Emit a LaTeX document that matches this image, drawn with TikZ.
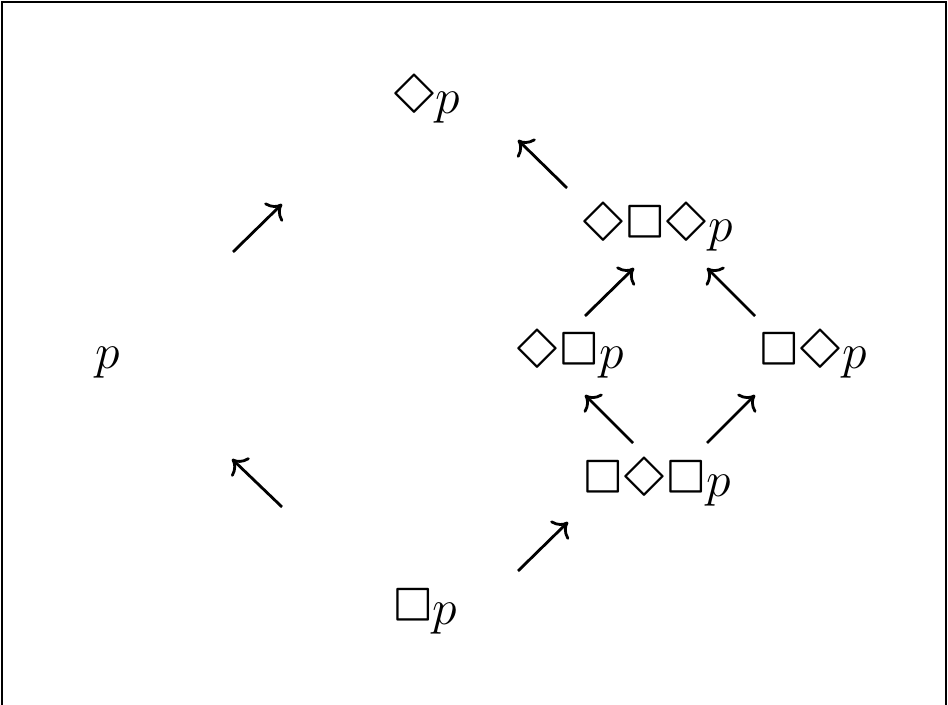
\documentclass[tikz,border=0pt]{standalone}
\usepackage{latexsym}
\DeclareFontFamily{U}{lasy}{}
\DeclareFontShape{U}{lasy}{m}{n}{<-> lasy10}{}
\newcommand{\Dm}{\mathord{\mkern-0.5mu\Diamond\mkern-0.5mu}}
\newcommand{\Bx}{\mathord{\mkern-0.5mu\Box\mkern-0.5mu}}
\usetikzlibrary{arrows.meta}
\begin{document}
\begin{tikzpicture}[x=0.5pt,y=-0.5pt,
  lbl/.style={inner sep=0pt,anchor=base west,font=\fontsize{29}{35}\selectfont},
  arr/.style={-{To[length=6.5pt,width=13pt]},line width=1.4pt},
  frame/.style={line width=1pt}]
\useasboundingbox (0,0) rectangle (948,705);
\draw[frame] (2,705) -- (2,2) -- (946,2) -- (946,705);
\node[lbl] (dp) at (392,114) {$\Dm p$};
\node[lbl] (dbdp) at (581,242) {$\Dm\Bx\Dm p$};
\node[lbl] (p) at (95,369) {$p$};
\node[lbl] (dbp) at (515,369) {$\Dm\Bx p$};
\node[lbl] (bdp) at (758,369) {$\Bx\Dm p$};
\node[lbl] (bdbp) at (582,497) {$\Bx\Dm\Bx p$};
\node[lbl] (bp) at (392,624) {$\Bx p$};
\coordinate (a1s) at (233,252); \coordinate (a1e) at (282,204);
\coordinate (a2s) at (282,507); \coordinate (a2e) at (232,459);
\coordinate (a3s) at (567,188); \coordinate (a3e) at (518,140);
\coordinate (a4s) at (518,571); \coordinate (a4e) at (568,522);
\coordinate (a5s) at (585,316); \coordinate (a5e) at (634,268);
\coordinate (a6s) at (755,316); \coordinate (a6e) at (707,268);
\coordinate (a7s) at (633,443); \coordinate (a7e) at (585,395);
\coordinate (a8s) at (707,443); \coordinate (a8e) at (755,395);
\foreach \i in {1,...,8} \draw[arr] (a\i s) -- (a\i e);
\end{tikzpicture}
\end{document}
